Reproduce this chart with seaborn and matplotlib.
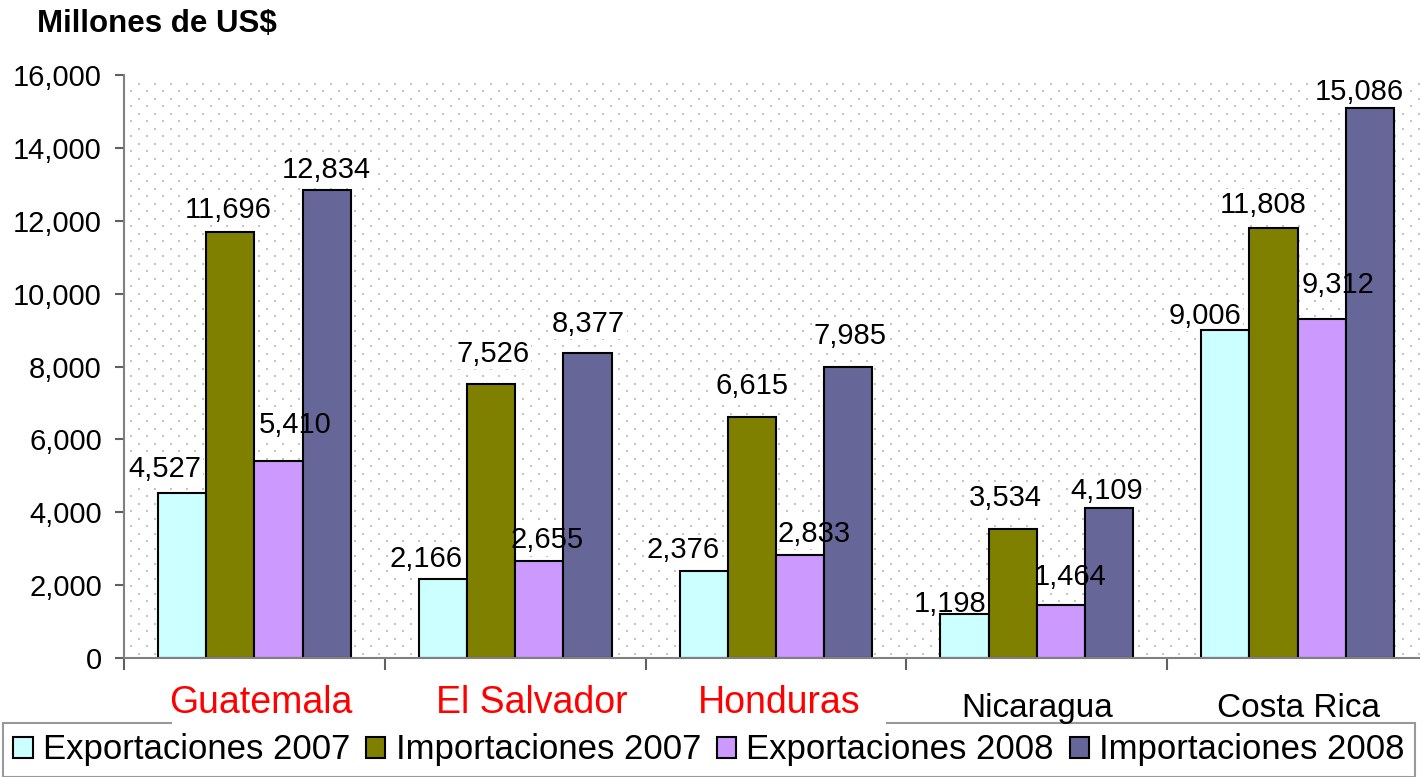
import numpy as np
import pandas as pd
import matplotlib
matplotlib.use("Agg")
import matplotlib.pyplot as plt
import seaborn as sns
from matplotlib.patches import Rectangle, Patch
from matplotlib import transforms as mtransforms

# ---------------- data ----------------
countries = ["Guatemala", "El Salvador", "Honduras", "Nicaragua", "Costa Rica"]
series = ["Exportaciones 2007", "Importaciones 2007",
          "Exportaciones 2008", "Importaciones 2008"]
exp_2007 = [4527, 2166, 2376, 1198, 9006]
imp_2007 = [11696, 7526, 6615, 3534, 11808]
exp_2008 = [5410, 2655, 2833, 1464, 9312]
imp_2008 = [12834, 8377, 7985, 4109, 15086]
y_ticks = [0, 2000, 4000, 6000, 8000, 10000, 12000, 14000, 16000]
highlighted = ["Guatemala", "El Salvador", "Honduras"]
title = "Millones de US$"

# ---------------- style ----------------
colors = ["#CCFFFF", "#808000", "#CC99FF", "#666699"]
# label offsets (pixels): horizontal shift from bar centre, baseline gap above bar top
label_dx = [[-17, -16.5, -20.5, -14, -20],
            [-2.5, 2, 0, -7, -10],
            [17, 7.5, 14, 9, 16],
            [-0.5, 1, 1.5, -2, -11]]
label_dy = [[16, 12, 13, 2.5, 6],
            [14, 22, 23, 23, 15],
            [28, 13, 13, 20, 26],
            [12, 21, 23, 9, 8]]
cat_dx = [6.5, 16.5, 3.5, 0.5, 0.5]

sns.set_theme(style="white")
plt.rcParams["font.family"] = ["Liberation Sans", "DejaVu Sans"]
plt.rcParams["text.color"] = "black"
plt.rcParams["xtick.color"] = "black"
plt.rcParams["ytick.color"] = "black"
plt.rcParams["xtick.labelcolor"] = "black"
plt.rcParams["ytick.labelcolor"] = "black"

W, H = 1420, 777
PX = 72.0 / 100.0  # points per pixel
fig = plt.figure(figsize=(W / 100, H / 100), dpi=100)
fig.patch.set_facecolor("white")
ax_l, ax_r, ax_t, ax_b = 124, 1428, 75, 658
ax = fig.add_axes([ax_l / W, (H - ax_b) / H, (ax_r - ax_l) / W, (ax_b - ax_t) / H])

df = pd.DataFrame({
    "country": countries * 4,
    "series": sum([[s] * len(countries) for s in series], []),
    "value": exp_2007 + imp_2007 + exp_2008 + imp_2008,
})

sns.barplot(data=df, x="country", y="value", hue="series",
            order=countries, hue_order=series, palette=colors,
            saturation=1, width=0.74, edgecolor="black", linewidth=1.5,
            legend=False, ax=ax, zorder=2, errorbar=None)

ax.set_xlim(-0.5, 4.5)
ax.set_ylim(0, 16000)

# dotted background texture
hpx, wpx = ax_b - ax_t, ax_r - ax_l
tex = np.zeros((hpx, wpx, 4))
dot = np.array([0.77, 0.77, 0.77, 1.0])
for r in range(8, hpx - 1, 15):
    for c in range(14, wpx - 1, 16):
        tex[r:r + 2, c:c + 2] = dot
    r2 = r + 7
    if r2 < hpx - 1:
        for c in range(6, wpx - 1, 16):
            tex[r2:r2 + 2, c:c + 2] = dot
ax.imshow(tex, extent=(-0.5, 4.5, 0, 16000), aspect="auto",
          interpolation="nearest", zorder=0.5)
ax.set_xlim(-0.5, 4.5)
ax.set_ylim(0, 16000)

# axes styling
for s in ["top", "right"]:
    ax.spines[s].set_visible(False)
for s in ["left", "bottom"]:
    ax.spines[s].set_color("#808080")
    ax.spines[s].set_linewidth(1.5)
ax.set_yticks(y_ticks)
ax.set_yticklabels([f"{v:,}" for v in y_ticks])
ax.tick_params(axis="y", direction="out", length=9 * PX, width=1.5,
               color="#606060", labelcolor="black", labelsize=21,
               pad=13 * PX, left=True)
ax.set_xticks(np.arange(-0.5, 4.0, 1.0))
ax.set_xticklabels([])
ax.tick_params(axis="x", direction="out", length=12 * PX, width=1.5,
               color="#606060", bottom=True)
ax.set_xlabel("")
ax.set_ylabel("")

# data labels
for si, cont in enumerate(ax.containers[:4]):
    for ci, bar in enumerate(cont.patches):
        xc = bar.get_x() + bar.get_width() / 2
        hv = bar.get_height()
        txt = f"{int(round(hv)):,}"
        off = (label_dx[si][ci] * PX, label_dy[si][ci] * PX)
        ax.annotate(txt, xy=(xc, hv), xytext=off, textcoords="offset points",
                    ha="center", va="baseline", fontsize=21, color="none",
                    bbox=dict(facecolor="white", edgecolor="none", pad=1),
                    zorder=1.5, annotation_clip=False)
        ax.annotate(txt, xy=(xc, hv), xytext=off, textcoords="offset points",
                    ha="center", va="baseline", fontsize=21, color="black",
                    zorder=6, annotation_clip=False)

# title
fig.text(37 / W, 1 - 32 / H, title, fontsize=22.5, fontweight="bold",
         ha="left", va="baseline", color="black")

# legend
handles = [Patch(facecolor=c, edgecolor="black", linewidth=1.5) for c in colors]
leg = fig.legend(handles, series, ncol=4, loc="upper left",
                 bbox_to_anchor=(3 / W, 0, 1412 / W, (H - 723) / H),
                 mode="expand", frameon=True, fancybox=False,
                 edgecolor="#808080", fontsize=25, handlelength=0.55,
                 handleheight=0.55, handletextpad=0.3, columnspacing=0.4,
                 borderpad=0.3, borderaxespad=0, labelcolor="black")
leg.get_frame().set_linewidth(1.5)
leg.set_zorder(5)

# white box behind highlighted labels
fig.add_artist(Rectangle((172 / W, 1 - 727 / H), 714 / W, 50 / H,
                         transform=fig.transFigure, facecolor="white",
                         edgecolor="none", zorder=8))

# category labels
blend = mtransforms.blended_transform_factory(ax.transData, fig.transFigure)
for i, name in enumerate(countries):
    tr = mtransforms.offset_copy(blend, fig=fig, x=cat_dx[i] * PX, y=0, units="points")
    if name in highlighted:
        fig.text(i, 1 - 713 / H, name, transform=tr, ha="center", va="baseline",
                 fontsize=27, color="#FF0000", zorder=9)
    else:
        fig.text(i, 1 - 717 / H, name, transform=tr, ha="center", va="baseline",
                 fontsize=24, color="black", zorder=9)

fig.savefig("out.png", dpi=100)
